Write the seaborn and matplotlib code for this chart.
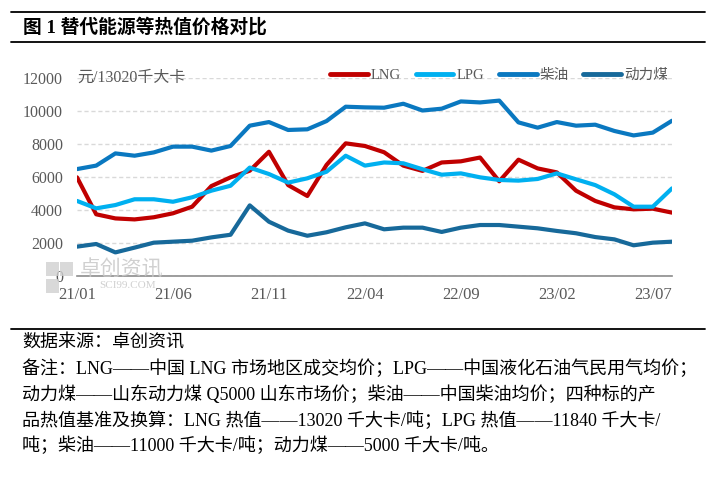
import pandas as pd
import seaborn as sns
import matplotlib.pyplot as plt
from matplotlib.patches import Rectangle

# month labels and values (元/13020千大卡)
months = pd.date_range('2021-01-01', periods=32, freq='MS').strftime('%y/%m').tolist()
tick_labels = ['21/01', '21/06', '21/11', '22/04', '22/09', '23/02', '23/07']

lng = [5980, 3740, 3490, 3430, 3560, 3800, 4200, 5450, 5980, 6380, 7530, 5510,
       4850, 6730, 8040, 7880, 7500, 6690, 6370, 6880, 6950, 7180, 5740, 7050,
       6520, 6280, 5170, 4550, 4160, 4040, 4080, 3840]
lpg = [4550, 4100, 4300, 4650, 4650, 4500, 4770, 5170, 5470, 6570, 6180, 5660,
       5920, 6320, 7290, 6690, 6880, 6830, 6470, 6140, 6220, 5980, 5820, 5780,
       5880, 6220, 5860, 5510, 4950, 4200, 4200, 5310]
diesel = [6480, 6690, 7430, 7290, 7490, 7840, 7840, 7600, 7880, 9110, 9330, 8850,
          8890, 9390, 10260, 10220, 10200, 10440, 10030, 10140, 10580, 10520, 10630, 9310,
          8990, 9330, 9110, 9170, 8790, 8520, 8690, 9410]
coal = [1780, 1940, 1430, 1720, 2020, 2080, 2140, 2340, 2500, 4280, 3290, 2750,
        2440, 2650, 2950, 3190, 2830, 2930, 2930, 2670, 2930, 3090, 3090, 2990,
        2890, 2730, 2590, 2360, 2220, 1860, 2020, 2080]

names = ['LNG', 'LPG', '柴油', '动力煤']
colors = ['#C00000', '#00B0F0', '#0A78C0', '#17699A']

df = pd.DataFrame({'idx': list(range(len(months))) * 4,
                   'value': lng + lpg + diesel + coal,
                   'series': [n for n in names for _ in months]})

sns.set_theme(style='white')
plt.rcParams['font.family'] = ['Liberation Serif', 'Noto Sans CJK SC']
plt.rcParams['axes.unicode_minus'] = False

W, H = 713, 478
def fx(px):
    return px / W
def fy(py):
    return 1 - py / H

fig = plt.figure(figsize=(W / 100, H / 100), dpi=100)
ax = fig.add_axes([fx(77), fy(276), (672 - 77) / W, (276 - 78) / H])

sns.lineplot(data=df, x='idx', y='value', hue='series', hue_order=names,
             palette=colors, linewidth=3, ax=ax, legend=False, zorder=3)

ax.set_xlim(0, len(months) - 1)
ax.set_ylim(0, 12000)
ax.set_yticks(range(0, 12001, 2000))
ax.set_xticks(range(0, len(months), 5))
ax.set_xticklabels(tick_labels)
ax.set_xlabel('')
ax.set_ylabel('')
ax.yaxis.grid(True, color='#D9D9D9', linestyle=(0, (3, 2)), linewidth=1, zorder=0)
ax.xaxis.grid(False)
for s in ['top', 'right', 'left']:
    ax.spines[s].set_visible(False)
ax.spines['bottom'].set_color('#8C8C8C')
ax.spines['bottom'].set_linewidth(1.2)
ax.tick_params(axis='x', direction='out', length=3, width=1, color='#8C8C8C',
               pad=5, labelsize=12, labelcolor='#595959')
ax.tick_params(axis='y', length=0, pad=10, labelsize=11.5, labelcolor='#595959')

leg = ax.legend(ax.lines[:4], names, loc='center left',
                bbox_to_anchor=(fx(330), fy(75)), bbox_transform=fig.transFigure,
                ncol=4, frameon=False, fontsize=10.5, handlelength=2.6,
                handletextpad=0.2, columnspacing=1.0, borderpad=0, borderaxespad=0)
for t in leg.get_texts():
    t.set_color('#595959')
for h in leg.get_lines():
    h.set_linewidth(3.5)
    h.set_solid_capstyle('round')

fig.text(fx(77), fy(78), '元/13020千大卡', fontsize=11.5, color='#595959',
         ha='left', va='center')

# title block
fig.add_artist(plt.Line2D([fx(11), fx(705)], [fy(12), fy(12)], color='black', lw=1.3))
fig.add_artist(plt.Line2D([fx(11), fx(705)], [fy(42), fy(42)], color='black', lw=1.3))
fig.text(fx(23), fy(27), '图 1 替代能源等热值价格对比', fontsize=13.5, fontweight='bold',
         color='black', ha='left', va='center')

# watermark
for (x0, y0) in [(46, 262), (60, 262), (46, 279)]:
    fig.add_artist(Rectangle((fx(x0), fy(y0 + 14)), 13 / W, 14 / H,
                             transform=fig.transFigure, color='#D0D0D0', alpha=0.8, lw=0))
fig.text(fx(80), fy(270), '卓创资讯', fontsize=15, color='#C8C8C8', ha='left', va='center',
         family=['Noto Sans CJK SC'], alpha=0.85)
fig.text(fx(99), fy(286), 'SCI99.COM', fontsize=8, color='#C8C8C8', ha='left', va='center',
         alpha=0.85)

# footnote
fig.add_artist(plt.Line2D([fx(11), fx(705)], [fy(329), fy(329)], color='black', lw=1.3))
notes = [
    '数据来源：卓创资讯',
    '备注：LNG——中国 LNG 市场地区成交均价；LPG——中国液化石油气民用气均价；',
    '动力煤——山东动力煤 Q5000 山东市场价；柴油——中国柴油均价；四种标的产',
    '品热值基准及换算：LNG 热值——13020 千大卡/吨；LPG 热值——11840 千大卡/',
    '吨；柴油——11000 千大卡/吨；动力煤——5000 千大卡/吨。',
]
for i, line in enumerate(notes):
    fig.text(fx(22), fy(343 + 25.8 * i), line, fontsize=13, color='black',
             ha='left', va='center')

fig.savefig('out.png', dpi=100)
